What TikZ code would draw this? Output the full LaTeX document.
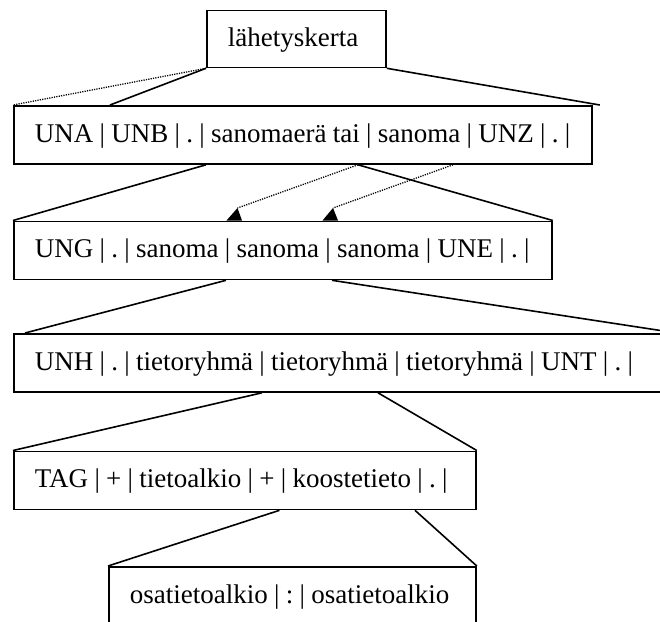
\documentclass[tikz,border=0pt]{standalone}
\usepackage{fontspec}
\setmainfont{Liberation Serif}
\usetikzlibrary{calc}
\newcommand{\boxtext}[2]{\makebox[#1][l]{\frenchspacing\spaceskip=6.3pt\relax #2}}
\tikzset{
  box/.style={draw, fill=white, line width=1.8pt, rectangle, anchor=north west,
    inner xsep=21pt, inner ysep=0pt, text height=36.5pt, text depth=21.5pt,
    font=\fontsize{27pt}{31pt}\selectfont},
  conn/.style={line width=1.6pt},
  dotconn/.style={line width=1.3pt, dash pattern=on 1.2pt off 1.2pt},
  tipfill/.style={fill=black}
}
\begin{document}
\begin{tikzpicture}[x=1pt,y=-1pt]
\useasboundingbox (0,0) rectangle (660,621);
\clip (0,0) rectangle (660,621);
% boxes
\node[box, text depth=20.5pt] (A) at (206,9.5) {\boxtext{137pt}{lähetyskerta}};
\node[box] (B) at (13,105) {\boxtext{536pt}{UNA | UNB | . | sanomaerä tai | sanoma | UNZ | . |}};
\node[box] (C) at (13,220.5) {\boxtext{496pt}{UNG | . | sanoma | sanoma | sanoma | UNE | . |}};
\node[box] (D) at (13,333) {\boxtext{620pt}{UNH | . | tietoryhmä | tietoryhmä | tietoryhmä | UNT | . |}};
\node[box] (E) at (13,450.5) {\boxtext{420pt}{TAG | + | tietoalkio | + | koostetieto | . |}};
\node[box, text depth=43.5pt] (F) at (108,566) {\boxtext{325pt}{osatietoalkio | : | osatietoalkio}};
% connectors A -> B
\draw[conn] (A.south west) -- ($(B.north west)+(97,0)$);
\draw[dotconn] (A.south west) -- (B.north west);
\draw[conn] (A.south east) -- ($(B.north east)+(7,0)$);
% B -> C
\draw[conn] ($(B.south west)+(193,0)$) -- (C.north west);
\draw[conn] ($(B.south west)+(345,0)$) -- (C.north east);
\coordinate (t1) at ($(C.north west)+(224.5,-12.5)$);
\coordinate (t2) at ($(C.north west)+(320,-12.5)$);
\draw[dotconn] ($(B.south west)+(345,0)$) -- (t1);
\draw[dotconn] ($(B.south west)+(440,0)$) -- (t2);
\fill[tipfill] (t1) -- ($(C.north west)+(213.5,0)$) -- ($(C.north west)+(229,0)$) -- cycle;
\fill[tipfill] (t2) -- ($(C.north west)+(309.5,0)$) -- ($(C.north west)+(325,0)$) -- cycle;
% C -> D
\draw[conn] ($(C.south west)+(213,0)$) -- ($(D.north west)+(12,0)$);
\draw[conn] ($(C.south west)+(319,0)$) -- (D.north east);
% D -> E
\draw[conn] ($(D.south west)+(249,0)$) -- (E.north west);
\draw[conn] ($(D.south west)+(365,0)$) -- (E.north east);
% E -> F
\draw[conn] ($(E.south west)+(266.5,0)$) -- (F.north west);
\draw[conn] ($(E.south west)+(402,0)$) -- (F.north east);
\end{tikzpicture}
\end{document}
